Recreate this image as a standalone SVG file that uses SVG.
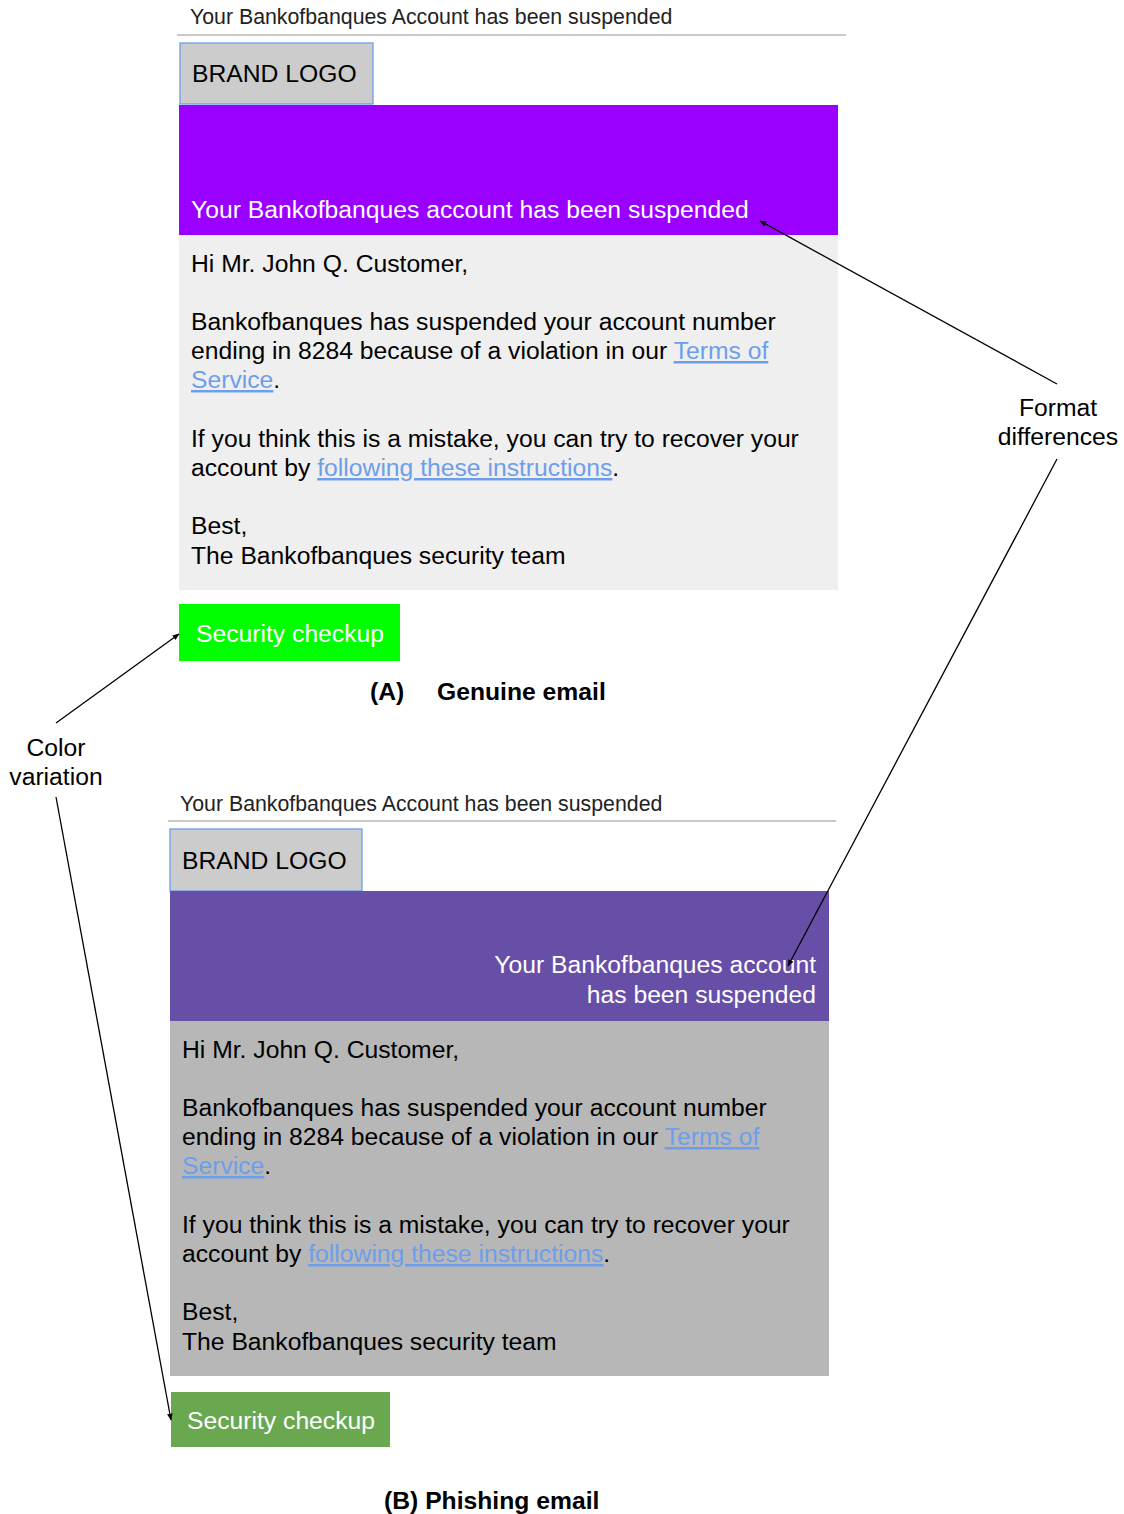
<svg xmlns="http://www.w3.org/2000/svg" width="1124" height="1514" viewBox="0 0 1124 1514">
<style>
text{font-family:"Liberation Sans",Arial,sans-serif;font-size:24.7px;fill:#000}
.subj{font-size:21.3px;fill:#222}
.w{fill:#fff}
.lnk{fill:#6d9eeb;text-decoration:underline}
.b{font-weight:bold}
.rule{stroke:#b7b7b7;stroke-width:1.3}
.logo{fill:#cccccc;stroke:#6d9eeb;stroke-width:1.3}
.conn{stroke:#000;stroke-width:1.3;fill:none;marker-end:url(#ah)}
</style>
<defs>
<marker id="ah" viewBox="0 0 10 10" refX="9" refY="5" markerWidth="7" markerHeight="7" orient="auto" markerUnits="userSpaceOnUse">
<path d="M0,1 L10,5 L0,9 z" fill="#000"/>
</marker>
</defs>
<rect width="1124" height="1514" fill="#fff"/>

<g id="emailA">
<text class="subj" x="190" y="24">Your Bankofbanques Account has been suspended</text>
<line class="rule" x1="177" y1="35" x2="846" y2="35"/>
<g id="logoA"><rect class="logo" x="180" y="43" width="193" height="61"/><text x="192" y="82">BRAND LOGO</text></g>
<g id="bannerA"><rect x="179" y="105" width="659" height="130" fill="#9900ff"/><text class="w" x="191" y="218">Your Bankofbanques account has been suspended</text></g>
<g id="bodyA"><rect x="179" y="235" width="659" height="355" fill="#efefef"/>
<text x="191" y="272">Hi Mr. John Q. Customer,</text>
<text x="191" y="330">Bankofbanques has suspended your account number</text>
<text x="191" y="359">ending in 8284 because of a violation in our <tspan class="lnk">Terms of</tspan></text>
<text x="191" y="388"><tspan class="lnk">Service</tspan>.</text>
<text x="191" y="447">If you think this is a mistake, you can try to recover your</text>
<text x="191" y="476">account by <tspan class="lnk">following these instructions</tspan>.</text>
<text x="191" y="534">Best,</text>
<text x="191" y="564">The Bankofbanques security team</text>
</g>
<g id="buttonA"><rect x="179" y="604" width="221" height="57" fill="#00ff00"/><text class="w" x="196" y="642">Security checkup</text></g>
<text class="b" x="370" y="700">(A)</text>
<text class="b" x="437" y="700">Genuine email</text>
</g>

<g id="emailB">
<text class="subj" x="180" y="811">Your Bankofbanques Account has been suspended</text>
<line class="rule" x1="168" y1="821" x2="836" y2="821"/>
<g id="logoB"><rect class="logo" x="170" y="829" width="192" height="62"/><text x="182" y="869">BRAND LOGO</text></g>
<g id="bannerB"><rect x="170" y="891" width="659" height="130" fill="#674ea7"/>
<text class="w" x="816" y="973" text-anchor="end">Your Bankofbanques account</text>
<text class="w" x="816" y="1003" text-anchor="end">has been suspended</text></g>
<g id="bodyB"><rect x="170" y="1021" width="659" height="355" fill="#b7b7b7"/>
<text x="182" y="1058">Hi Mr. John Q. Customer,</text>
<text x="182" y="1116">Bankofbanques has suspended your account number</text>
<text x="182" y="1145">ending in 8284 because of a violation in our <tspan class="lnk">Terms of</tspan></text>
<text x="182" y="1174"><tspan class="lnk">Service</tspan>.</text>
<text x="182" y="1233">If you think this is a mistake, you can try to recover your</text>
<text x="182" y="1262">account by <tspan class="lnk">following these instructions</tspan>.</text>
<text x="182" y="1320">Best,</text>
<text x="182" y="1350">The Bankofbanques security team</text>
</g>
<g id="buttonB"><rect x="171" y="1392" width="219" height="55" fill="#6aa84f"/><text class="w" x="187" y="1429">Security checkup</text></g>
<text class="b" x="384" y="1509">(B) Phishing email</text>
</g>

<g id="formatLabel"><text x="1058" y="416" text-anchor="middle">Format</text><text x="1058" y="445" text-anchor="middle">differences</text></g>
<g id="colorLabel"><text x="56" y="756" text-anchor="middle">Color</text><text x="56" y="785" text-anchor="middle">variation</text></g>

<g id="connectors">
<line class="conn" x1="1057" y1="384" x2="760" y2="221"/>
<line class="conn" x1="1057" y1="459" x2="788" y2="966"/>
<line class="conn" x1="56" y1="723" x2="179" y2="634"/>
<line class="conn" x1="56" y1="797" x2="171" y2="1420"/>
</g>
</svg>
